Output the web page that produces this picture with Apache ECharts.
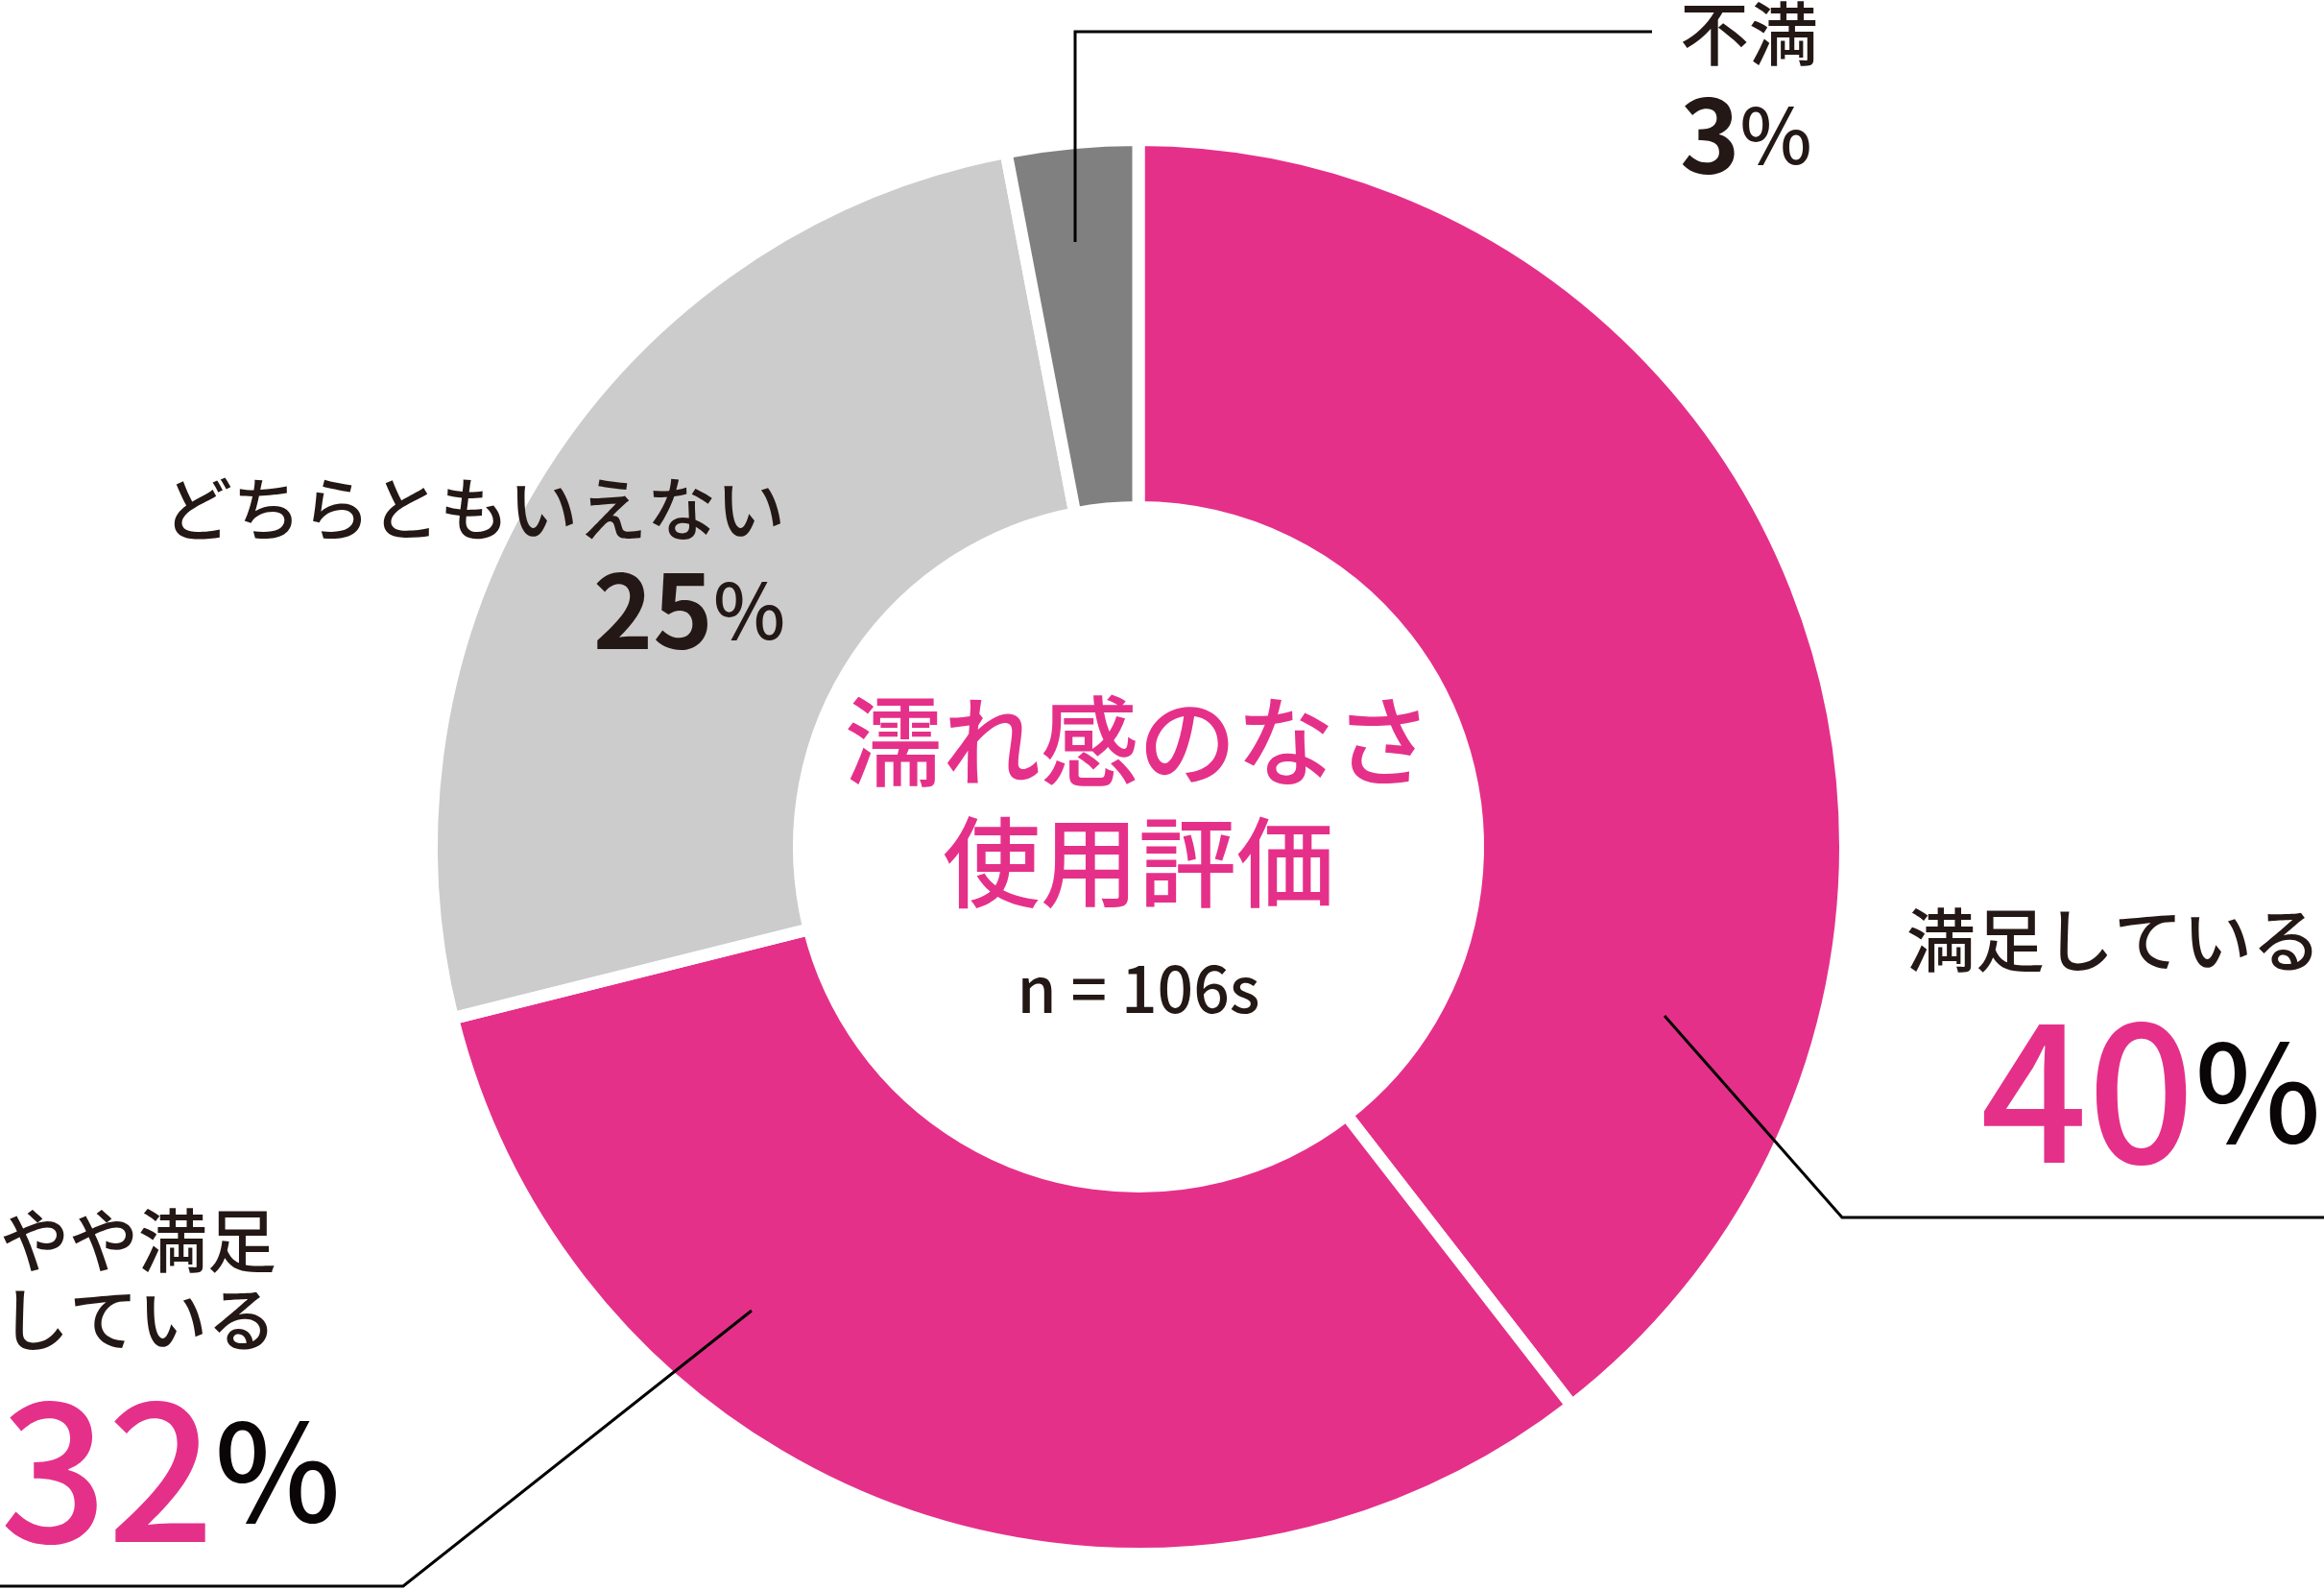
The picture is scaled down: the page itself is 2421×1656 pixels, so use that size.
<!DOCTYPE html>
<html lang="ja">
<head>
<meta charset="UTF-8">
<title>濡れ感のなさ 使用評価</title>
<style>
    html, body { margin: 0; padding: 0; background: #fff; }
    #main { width: 2421px; height: 1656px; }
</style>
</head>
<body>
<div id="main"></div>
<script src="https://cdn.jsdelivr.net/npm/echarts@6/dist/echarts.min.js"></script>
<script>
// data
var categories = ['満足している', 'やや満足している', 'どちらともいえない', '不満'];
var values = [39.5, 31.6, 25.9, 3.0];
var pctLabels = ['40', '32', '25', '3'];
var labelNames = ['満足している', 'やや満足\nしている', 'どちらともいえない', '不満'];
var titleLines = ['濡れ感のなさ', '使用評価'];
var sampleText = 'n = 106s';

var PINK = '#e5308a';
var INK = '#231815';
var FONT = '"Noto Sans CJK JP", "Noto Sans", sans-serif';
var colors = [PINK, PINK, '#cccccc', '#808080'];

var CX = 1186, CY = 882;
var RADIUS = [353.5, 736.5];

// where each label sits and how its leader line runs (px)
var labelPos = [
    {x: 2418, y: 938, align: 'right', line: [[1734, 1058], [1919, 1268], [2421, 1268]]},
    {x: 0, y: 1251, align: 'left', line: [[783, 1365], [420, 1652], [0, 1652]]},
    {x: 818, y: 489, align: 'right', line: null},
    {x: 1750, y: -6, align: 'left', line: [[1120, 252], [1120, 33], [1721, 33]]}
];

function labelText(p) {
    var i = p.dataIndex;
    var names = labelNames[i].split('\n').map(function (s) { return '{name|' + s + '}'; }).join('\n');
    if (i < 2) return names + '\n{big|' + pctLabels[i] + '}{pbig|%}';
    return names + '\n{mid|' + pctLabels[i] + '}{pmid|%}';
}

var ringData = categories.map(function (c, i) {
    return {name: c, value: values[i], itemStyle: {color: colors[i]}};
});

// same slices again, invisible, only to carry the labels + leader lines above the ring
var labelData = categories.map(function (c, i) {
    return {name: c, value: values[i], labelLine: {show: labelPos[i].line != null}};
});

var chart = echarts.init(document.getElementById('main'));
chart.setOption({
    backgroundColor: '#fff',
    animation: false,
    graphic: [
        {
            type: 'text', x: CX, y: 772,
            style: {text: titleLines[0], fill: PINK, font: '500 102px ' + FONT, align: 'center', verticalAlign: 'middle'}
        },
        {
            type: 'text', x: CX, y: 898,
            style: {text: titleLines[1], fill: PINK, font: '500 102px ' + FONT, align: 'center', verticalAlign: 'middle'}
        },
        {
            type: 'text', x: CX, y: 1030,
            style: {text: sampleText, fill: INK, font: '500 66px ' + FONT, align: 'center', verticalAlign: 'middle'}
        }
    ],
    series: [
        {
            type: 'pie',
            z: 2,
            center: [CX, CY],
            radius: RADIUS,
            startAngle: 90,
            clockwise: true,
            silent: true,
            itemStyle: {borderColor: '#fff', borderWidth: 13},
            label: {show: false},
            labelLine: {show: false},
            data: ringData
        },
        {
            type: 'pie',
            z: 5,
            center: [CX, CY],
            radius: RADIUS,
            startAngle: 90,
            clockwise: true,
            avoidLabelOverlap: false,
            silent: true,
            itemStyle: {color: 'rgba(0,0,0,0)', borderWidth: 0},
            label: {
                show: true,
                position: 'outside',
                formatter: labelText,
                fontFamily: FONT,
                rich: {
                    name: {fontSize: 72, lineHeight: 82, color: INK, fontWeight: 500, fontFamily: FONT},
                    big: {fontSize: 196, lineHeight: 234, color: PINK, fontWeight: 500, fontFamily: FONT},
                    pbig: {fontSize: 140, color: '#0a0506', fontWeight: 500, fontFamily: FONT},
                    mid: {fontSize: 106, lineHeight: 130, color: INK, fontWeight: 'bold', fontFamily: FONT},
                    pmid: {fontSize: 80, color: INK, fontWeight: 500, fontFamily: FONT}
                }
            },
            labelLine: {
                show: true,
                length: 20,
                length2: 20,
                smooth: false,
                lineStyle: {color: '#000', width: 3}
            },
            labelLayout: function (params) {
                var p = labelPos[params.dataIndex];
                var out = {x: p.x, y: p.y, align: p.align, verticalAlign: 'top'};
                if (p.line) out.labelLinePoints = p.line;
                return out;
            },
            data: labelData
        }
    ]
});
</script>
</body>
</html>
